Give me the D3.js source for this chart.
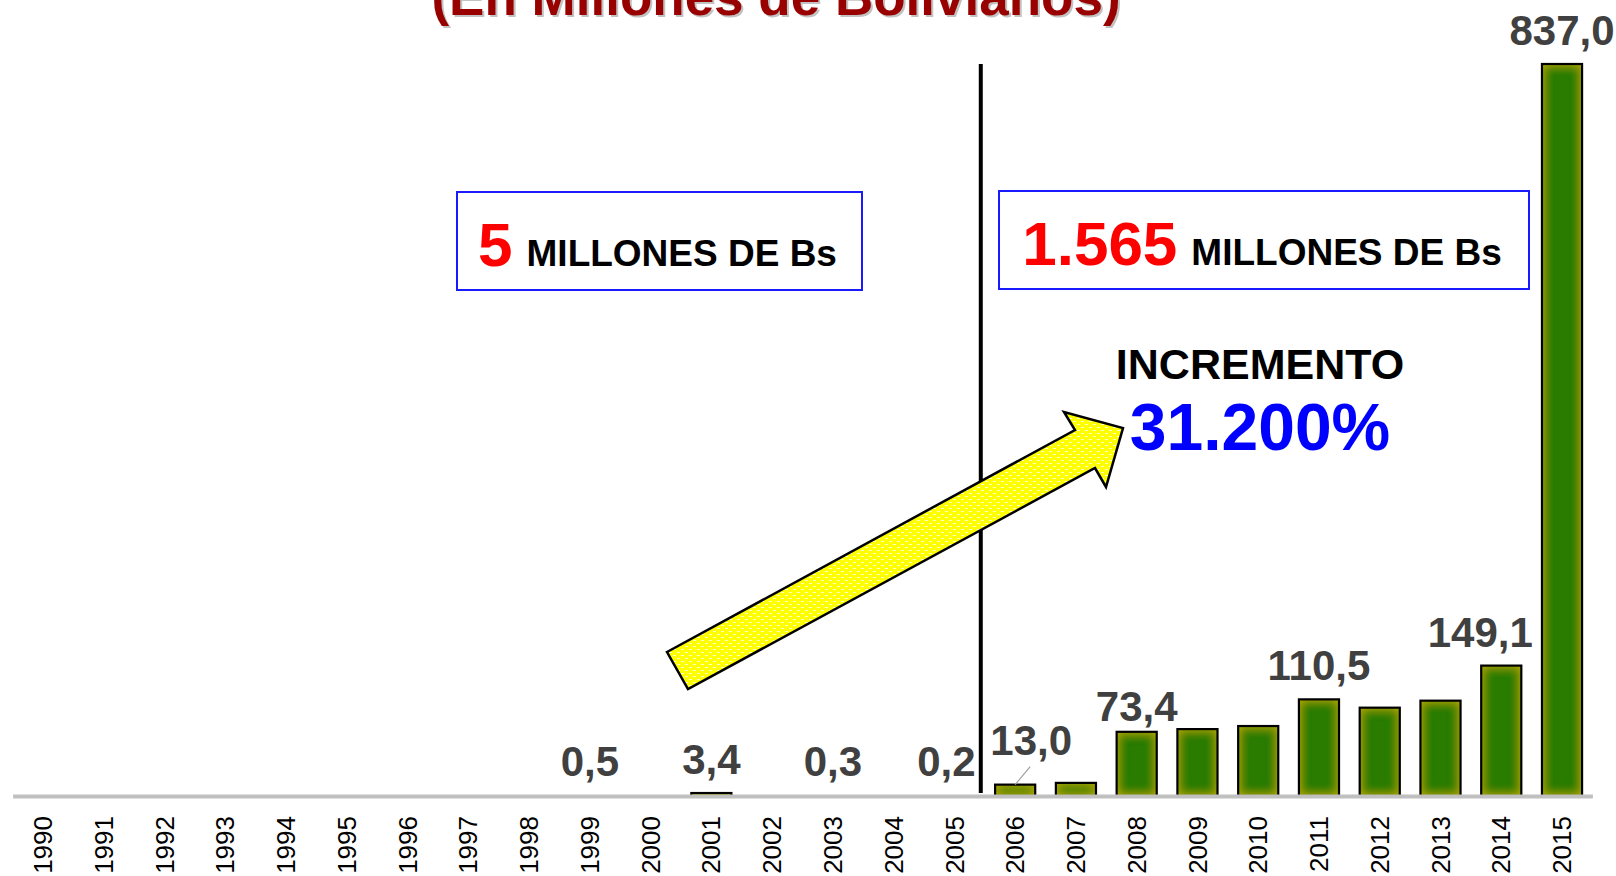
<!DOCTYPE html>
<html>
<head>
<meta charset="utf-8">
<script src="https://cdn.jsdelivr.net/npm/d3@7"></script>
<style>
  body { margin: 0; background: #fff; }
  svg { display: block; font-family: "Liberation Sans", Arial, sans-serif; }
</style>
</head>
<body>
<div id="chart-area"></div>
<script>

// DATA ---------------------------------------------------------
var years = ["1990","1991","1992","1993","1994","1995","1996","1997","1998","1999",
             "2000","2001","2002","2003","2004","2005","2006","2007","2008","2009",
             "2010","2011","2012","2013","2014","2015"];
var values = [0, 0, 0, 0, 0, 0, 0, 0, 0, 0.5,
              0, 3.4, 0, 0.3, 0, 0.2, 13.0, 15.0, 73.4, 76.5,
              80.0, 110.5, 101.0, 109.0, 149.1, 837.0];
var labeledYears = ["1999","2001","2003","2005","2006","2008","2011","2014","2015"];
var periodTotals = ["5", "1.565"];
var boxUnit = "MILLONES DE Bs";
var incrementLabel = "INCREMENTO";
var incrementValue = "31.200%";
var title = "(En Millones de Bolivianos)";

var data = years.map(function(d, i) { return { year: d, value: values[i] }; });

var width = 1616, height = 876;
var baseY = 796;

var svg = d3.select("#chart-area").append("svg")
    .attr("width", width)
    .attr("height", height);

var defs = svg.append("defs");

// inner glow for the bars (olive edges, green centre)
var glow = defs.append("filter")
    .attr("id", "glow")
    .attr("filterUnits", "userSpaceOnUse")
    .attr("x", 0).attr("y", 0).attr("width", width).attr("height", height);
glow.append("feFlood").attr("flood-color", "#c4b400").attr("result", "f");
glow.append("feComposite").attr("in", "f").attr("in2", "SourceAlpha").attr("operator", "out").attr("result", "o");
glow.append("feGaussianBlur").attr("in", "o").attr("stdDeviation", 5.5).attr("result", "b");
glow.append("feComposite").attr("in", "b").attr("in2", "SourceAlpha").attr("operator", "in").attr("result", "i");
var merge = glow.append("feMerge");
merge.append("feMergeNode").attr("in", "SourceGraphic");
merge.append("feMergeNode").attr("in", "i");

// dotted yellow fill of the arrow
var pat = defs.append("pattern")
    .attr("id", "dots")
    .attr("patternUnits", "userSpaceOnUse")
    .attr("width", 8).attr("height", 6);
pat.append("rect").attr("width", 8).attr("height", 6).attr("fill", "#ffff00");
pat.append("rect").attr("x", 1).attr("y", 1).attr("width", 3).attr("height", 1).attr("fill", "#ffffd0");
pat.append("rect").attr("x", 5).attr("y", 4).attr("width", 3).attr("height", 1).attr("fill", "#ffffd0");

// SCALES -------------------------------------------------------
var x = d3.scaleBand()
    .domain(years)
    .range([12.6, 1592.4])
    .paddingInner(0.34)
    .paddingOuter(0.17);
var y = d3.scaleLinear()
    .domain([0, d3.max(values)])
    .range([baseY, 64]);

var fmt = function(v) { return d3.format(".1f")(v).replace(".", ","); };
var cx = function(yr) { return x(yr) + x.bandwidth() / 2; };

// TITLE (cut off at the top, as in the slide) ------------------
svg.append("text")
    .attr("x", 778).attr("y", 17)
    .attr("text-anchor", "middle")
    .attr("font-size", "53px").attr("font-weight", "bold")
    .attr("fill", "#9a9a9a").attr("opacity", 0.6)
    .text(title);
svg.append("text")
    .attr("x", 776).attr("y", 15)
    .attr("text-anchor", "middle")
    .attr("font-size", "53px").attr("font-weight", "bold")
    .attr("fill", "#990000")
    .text(title);

// VERTICAL DIVIDER ---------------------------------------------
var divX = (cx("2005") + cx("2006")) / 2 - 4;
svg.append("line")
    .attr("x1", divX).attr("x2", divX)
    .attr("y1", y(d3.max(values))).attr("y2", baseY - 3)
    .attr("stroke", "#000").attr("stroke-width", 4);

// BARS ---------------------------------------------------------
var bars = svg.append("g").attr("class", "bars");
bars.selectAll("rect.fill")
    .data(data)
    .enter().append("rect")
    .attr("class", "fill")
    .attr("x", function(d) { return x(d.year); })
    .attr("y", function(d) { return y(d.value); })
    .attr("width", x.bandwidth())
    .attr("height", function(d) { return baseY - y(d.value); })
    .attr("fill", "#2a7c00")
    .attr("filter", "url(#glow)");
bars.selectAll("rect.edge")
    .data(data)
    .enter().append("rect")
    .attr("class", "edge")
    .attr("x", function(d) { return x(d.year); })
    .attr("y", function(d) { return y(d.value); })
    .attr("width", x.bandwidth())
    .attr("height", function(d) { return baseY - y(d.value); })
    .attr("fill", "none")
    // bars under one pixel vanish under the axis line
    .attr("stroke", function(d) { return baseY - y(d.value) < 1 ? "none" : "#000"; })
    .attr("stroke-width", 2.2);

// X AXIS -------------------------------------------------------
var xAxisGroup = svg.append("g")
    .attr("class", "x axis")
    .attr("transform", "translate(0," + baseY + ")")
    .call(d3.axisBottom(x).tickSize(0).tickSizeOuter(0));
xAxisGroup.select(".domain")
    .attr("stroke", "#c0c0c0").attr("stroke-width", 4);
xAxisGroup.selectAll("text")
    .attr("transform", "rotate(-90)")
    .attr("x", -20).attr("y", 0)
    .attr("dy", "0.35em")
    .style("text-anchor", "end")
    .attr("font-size", "26px")
    .attr("font-family", "'Liberation Sans', Arial, sans-serif")
    .attr("fill", "#000");

// VALUE LABELS -------------------------------------------------
var nudge = { "2005": [-8, 0], "2006": [16, -11], "2008": [0, 8], "2014": [-21, 0] };
var labelData = data.filter(function(d) { return labeledYears.indexOf(d.year) >= 0; });
svg.append("g").selectAll("text")
    .data(labelData)
    .enter().append("text")
    .attr("x", function(d) { return cx(d.year) + (nudge[d.year] ? nudge[d.year][0] : 0); })
    .attr("y", function(d) { return Math.min(y(d.value), baseY - 1) - 19 + (nudge[d.year] ? nudge[d.year][1] : 0); })
    .attr("text-anchor", "middle")
    .attr("font-size", "42px").attr("font-weight", "bold")
    .attr("fill", "#404040")
    .text(function(d) { return fmt(d.value); });

// leader line for 13,0
svg.append("line")
    .attr("x1", cx("2006") + 15).attr("y1", y(13.0) - 18)
    .attr("x2", cx("2006")).attr("y2", y(13.0))
    .attr("stroke", "#a0a0a0").attr("stroke-width", 1.2);

// ARROW --------------------------------------------------------
var arrowPts = [[667,652],[1075,430],[1064,412],[1123,428],[1106,487],[1095,468],[688,689]];
svg.append("path")
    .attr("d", d3.line()(arrowPts) + "Z")
    .attr("fill", "url(#dots)")
    .attr("stroke", "#000").attr("stroke-width", 2.5)
    .attr("stroke-linejoin", "miter");

// PERIOD BOXES -------------------------------------------------
var boxes = [
    { x: 457, y: 192, w: 405, h: 98, total: periodTotals[0] },
    { x: 999, y: 191, w: 530, h: 98, total: periodTotals[1] }
];
boxes.forEach(function(b) {
    svg.append("rect")
        .attr("x", b.x).attr("y", b.y).attr("width", b.w).attr("height", b.h)
        .attr("fill", "#fff").attr("stroke", "#1a1aff").attr("stroke-width", 2);
    var t = svg.append("text")
        .attr("x", b.x + b.w / 2 - 2).attr("y", b.y + 74)
        .attr("text-anchor", "middle")
        .attr("font-weight", "bold");
    t.append("tspan").attr("font-size", "62px").attr("fill", "#ff0000").text(b.total);
    t.append("tspan").attr("font-size", "37px").attr("fill", "#000").attr("dx", 14).text(boxUnit);
});

// INCREMENT ----------------------------------------------------
svg.append("text")
    .attr("x", 1260).attr("y", 379)
    .attr("text-anchor", "middle")
    .attr("font-size", "43px").attr("font-weight", "bold")
    .attr("fill", "#000")
    .text(incrementLabel);
svg.append("text")
    .attr("x", 1260).attr("y", 450)
    .attr("text-anchor", "middle")
    .attr("font-size", "66px").attr("font-weight", "bold")
    .attr("fill", "#0000ff")
    .text(incrementValue);

</script>
</body>
</html>
